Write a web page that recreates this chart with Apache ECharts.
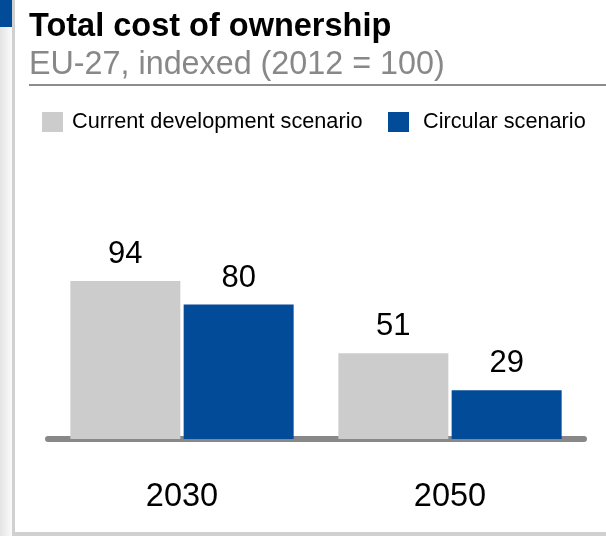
<!DOCTYPE html>
<html>
<head>
<meta charset="utf-8">
<script src="https://cdn.jsdelivr.net/npm/echarts@6/dist/echarts.min.js"></script>
<style>
html,body{margin:0;padding:0;background:#fff;}
#chart{width:606px;height:536px;}
</style>
</head>
<body>
<div id="chart"></div>
<script>
var categories = ['2030', '2050'];
var currentScenario = [94, 51];
var circularScenario = [80, 29];
var seriesNames = ['Current development scenario', 'Circular scenario'];
var titleText = 'Total cost of ownership';
var subtitleText = 'EU-27, indexed (2012 = 100)';

var FONT = "'Liberation Sans', Arial, Helvetica, sans-serif";
var chart = echarts.init(document.getElementById('chart'), null, {renderer: 'canvas'});
chart.setOption({
  animation: false,
  backgroundColor: '#ffffff',
  textStyle: {fontFamily: FONT},
  title: [
    {text: titleText, left: 24, top: 6, padding: 5,
     textStyle: {fontFamily: FONT, fontSize: 32.5, fontWeight: 'bold', color: '#000000'}},
    {text: subtitleText, left: 24, top: 44, padding: 5,
     textStyle: {fontFamily: FONT, fontSize: 32.3, fontWeight: 'normal', color: '#888888'}}
  ],
  legend: [
    {data: [seriesNames[0]], left: 37, top: 106, itemWidth: 21, itemHeight: 20,
     icon: 'rect', itemGap: 0,
     textStyle: {fontFamily: FONT, fontSize: 21.7, color: '#000', padding: [0, 0, 0, 4]}},
    {data: [seriesNames[1]], left: 383, top: 106, itemWidth: 21, itemHeight: 20,
     icon: 'rect', itemGap: 0,
     textStyle: {fontFamily: FONT, fontSize: 21.7, color: '#000', padding: [0, 0, 0, 9]}}
  ],
  grid: {left: 48, right: 22, top: 271, bottom: 97, containLabel: false},
  xAxis: {
    type: 'category', data: categories, offset: 3,
    axisLine: {show: true, lineStyle: {color: '#888888', width: 6}},
    axisTick: {show: false},
    axisLabel: {fontFamily: FONT, fontSize: 32.5, color: '#000', margin: 39},
    splitLine: {show: false}
  },
  yAxis: {type: 'value', min: 0, max: 100, show: false, splitLine: {show: false}},
  series: [
    {name: seriesNames[0], type: 'bar', data: currentScenario, barWidth: 110, barGap: '3%',
     itemStyle: {color: '#cccccc'},
     label: {show: true, position: 'top', distance: 11, fontFamily: FONT, fontSize: 31, color: '#000'}},
    {name: seriesNames[1], type: 'bar', data: circularScenario, barWidth: 110, barGap: '3%',
     itemStyle: {color: '#024b98'},
     label: {show: true, position: 'top', distance: 11, fontFamily: FONT, fontSize: 31, color: '#000'}}
  ],
  graphic: [
    {type: 'rect', left: 0, top: 27, shape: {width: 12, height: 509}, silent: true,
     style: {fill: new echarts.graphic.LinearGradient(0, 0, 1, 0, [
       {offset: 0, color: '#e4e4e4'}, {offset: 1, color: '#fbfbfb'}])}},
    {type: 'rect', left: 0, top: 0, shape: {width: 12, height: 27}, silent: true,
     style: {fill: '#024b98'}},
    {type: 'rect', left: 12, top: 0, shape: {width: 3, height: 536}, silent: true,
     style: {fill: '#d0d0d0'}},
    {type: 'rect', left: 12, top: 532, shape: {width: 594, height: 4}, silent: true,
     style: {fill: '#d0d0d0'}},
    {type: 'rect', left: 29, top: 84, shape: {width: 577, height: 2}, silent: true,
     style: {fill: '#8c8c8c'}}
  ]
});
</script>
</body>
</html>
